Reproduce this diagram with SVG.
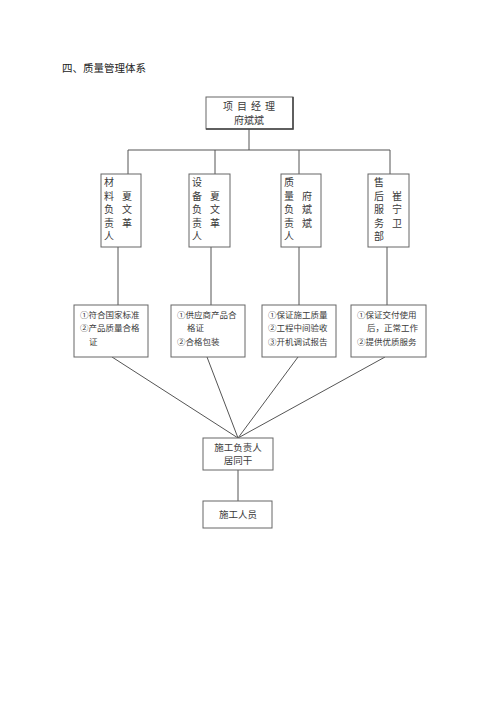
<svg xmlns="http://www.w3.org/2000/svg" width="500" height="707" viewBox="0 0 500 707">
<style>
text{font-family:"Noto Sans CJK SC","Liberation Serif",serif;font-size:10px;fill:#3a3a3a}
.s{font-size:8.5px}
.v{font-size:9.2px}
.box{fill:#fff;stroke:#666;stroke-width:1}
.sh{fill:none;stroke:#444;stroke-width:1.5}
.c{text-anchor:middle}
#connectors line{stroke:#555;stroke-width:1}
</style>
<rect width="500" height="707" fill="#fff"/>
<text x="62" y="72" style="font-size:10.5px;fill:#222">四、质量管理体系</text>
<g id="connectors">
<line x1="249" y1="129" x2="249" y2="150"/>
<line x1="128" y1="150" x2="390" y2="150"/>
<line x1="128" y1="150" x2="128" y2="174"/>
<line x1="215" y1="150" x2="215" y2="174"/>
<line x1="299" y1="150" x2="299" y2="174"/>
<line x1="390" y1="150" x2="390" y2="174"/>
<line x1="118" y1="247" x2="118" y2="305"/>
<line x1="211" y1="247" x2="211" y2="305"/>
<line x1="299" y1="247" x2="299" y2="305"/>
<line x1="387" y1="247" x2="387" y2="305"/>
<line x1="112" y1="357" x2="238" y2="438"/>
<line x1="207" y1="357" x2="238" y2="438"/>
<line x1="298" y1="357" x2="238" y2="438"/>
<line x1="385" y1="357" x2="238" y2="438"/>
<line x1="238" y1="470" x2="238" y2="501"/>
</g>
<g id="pm">
<rect class="box" x="206" y="97" width="87" height="32"/>
<polyline class="sh" points="293,97 293,129 206,129"/>
<text class="c" x="251" y="110" style="letter-spacing:4px">项目经理</text>
<text class="c" x="249" y="124">府斌斌</text>
</g>
<g id="mat">
<rect class="box" x="101" y="174" width="40" height="73"/>
<g class="v"><text x="104" y="186">材</text><text x="104" y="199.5">料</text><text x="104" y="213">负</text><text x="104" y="226.5">责</text><text x="104" y="240">人</text>
<text x="122" y="199.5">夏</text><text x="122" y="213">文</text><text x="122" y="226.5">革</text></g>
</g>
<g id="equip">
<rect class="box" x="189" y="174" width="41" height="73"/>
<g class="v"><text x="192" y="186">设</text><text x="192" y="199.5">备</text><text x="192" y="213">负</text><text x="192" y="226.5">责</text><text x="192" y="240">人</text>
<text x="210" y="199.5">夏</text><text x="210" y="213">文</text><text x="210" y="226.5">革</text></g>
</g>
<g id="qual">
<rect class="box" x="281" y="174" width="40" height="73"/>
<g class="v"><text x="284" y="186">质</text><text x="284" y="199.5">量</text><text x="284" y="213">负</text><text x="284" y="226.5">责</text><text x="284" y="240">人</text>
<text x="302" y="199.5">府</text><text x="302" y="213">斌</text><text x="302" y="226.5">斌</text></g>
</g>
<g id="after">
<rect class="box" x="368" y="174" width="41" height="73"/>
<g class="v"><text x="374" y="186">售</text><text x="374" y="199.5">后</text><text x="374" y="213">服</text><text x="374" y="226.5">务</text><text x="374" y="240">部</text>
<text x="392" y="199.5">崔</text><text x="392" y="213">宁</text><text x="392" y="226.5">卫</text></g>
</g>
<g id="d1">
<rect class="box" x="74" y="305" width="74" height="52"/>
<text class="s" x="80" y="318">①符合国家标准</text>
<text class="s" x="80" y="331">②产品质量合格</text>
<text class="s" x="89" y="345">证</text>
</g>
<g id="d2">
<rect class="box" x="171" y="305" width="74" height="52"/>
<text class="s" x="177" y="318">①供应商产品合</text>
<text class="s" x="187" y="331">格证</text>
<text class="s" x="177" y="345">②合格包装</text>
</g>
<g id="d3">
<rect class="box" x="262" y="305" width="74" height="52"/>
<text class="s" x="268" y="318">①保证施工质量</text>
<text class="s" x="268" y="331">②工程中间验收</text>
<text class="s" x="268" y="345">③开机调试报告</text>
</g>
<g id="d4">
<rect class="box" x="351" y="305" width="75" height="52"/>
<text class="s" x="357" y="318">①保证交付使用</text>
<text class="s" x="367" y="331">后，正常工作</text>
<text class="s" x="357" y="345">②提供优质服务</text>
</g>
<g id="lead">
<rect class="box" x="203" y="438" width="70" height="32"/>
<text class="c" x="238" y="451" style="font-size:9.5px">施工负责人</text>
<text class="c" x="238" y="464" style="font-size:9.5px">居同干</text>
</g>
<g id="staff">
<rect class="box" x="203" y="501" width="69" height="27"/>
<text class="c" x="238" y="518" style="font-size:9.5px">施工人员</text>
</g>
</svg>
